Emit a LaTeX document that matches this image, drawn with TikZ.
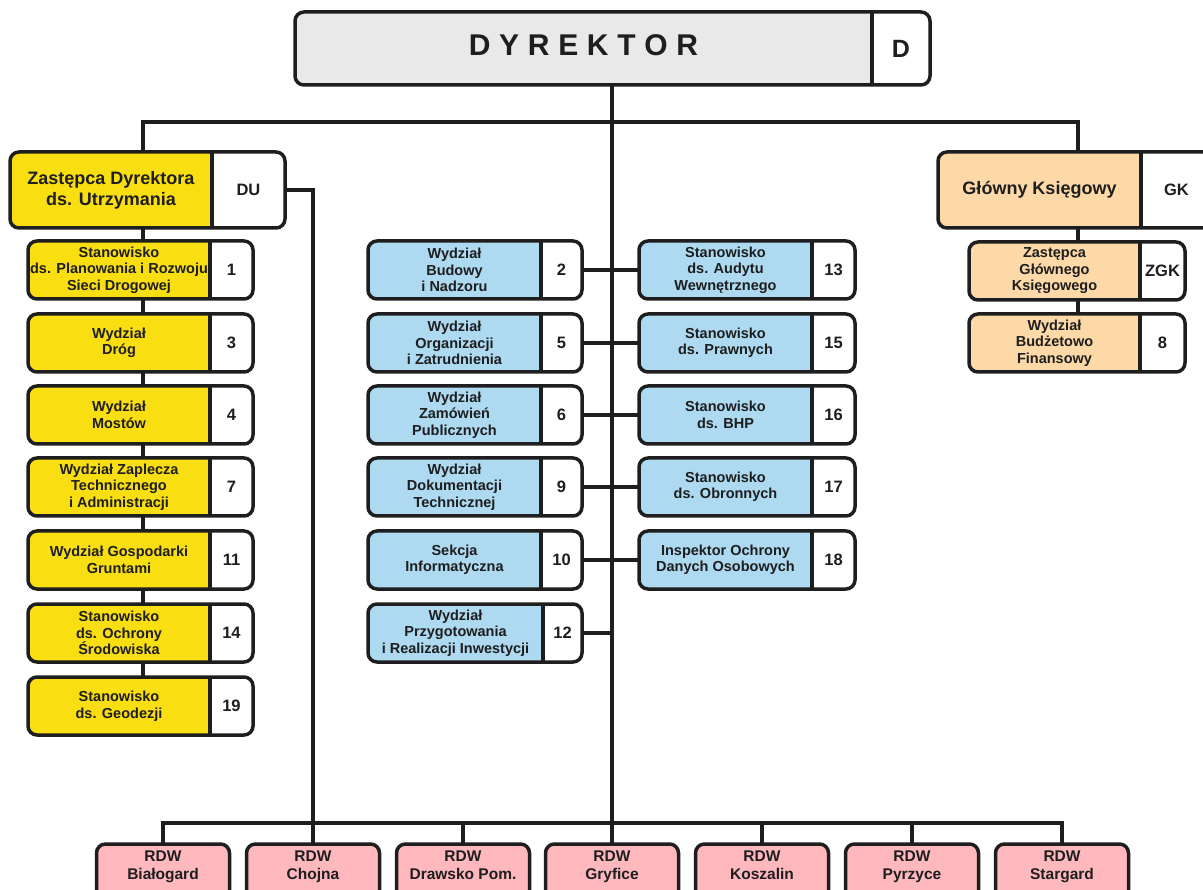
\documentclass[tikz,border=0pt]{standalone}
\usepackage{fontspec}
\setmainfont{Liberation Sans}
\usetikzlibrary{calc}
\pgfdeclarelayer{back}
\pgfdeclarelayer{bg}
\pgfsetlayers{back,bg,main}
\definecolor{cyel}{RGB}{249,222,18}
\definecolor{cblue}{RGB}{173,217,241}
\definecolor{cpeach}{RGB}{253,217,168}
\definecolor{cpink}{RGB}{255,184,189}
\definecolor{cgray}{RGB}{233,233,233}
\definecolor{ink}{RGB}{30,30,30}
\tikzset{
  conn/.style={line width=3.2pt, draw=ink},
  txtfont/.style={font=\bfseries\fontsize{14.5}{16.5}\selectfont},
  txt/.style={txtfont, align=center, inner sep=0pt, text=ink},
  num/.style={font=\bfseries\fontsize{16.5}{19}\selectfont, align=center, inner sep=0pt, text=ink},
  rdwtxt/.style={font=\bfseries\fontsize{15.5}{18}\selectfont, anchor=base, inner sep=0pt, text=ink},
  rdwbox/.style={shape=rectangle, rounded corners=9pt, draw=ink, line width=3.5pt, fill=cpink,
    minimum width=133pt, minimum height=62pt, inner sep=0pt, outer sep=0pt},
}
% name, x1, y1, x2, y2, xdiv, colour, text, number
\newcommand\obox[9]{%
  \path[fill=#7, rounded corners=9pt] (#2,#3) rectangle (#4,#5);
  \begin{scope}
    \clip[rounded corners=9pt] (#2,#3) rectangle (#4,#5);
    \fill[white] (#6,#3) rectangle (#4,#5);
  \end{scope}
  \node[shape=rectangle, rounded corners=9pt, draw=ink, line width=3.5pt,
    minimum width={#4pt-#2pt}, minimum height={#5pt-#3pt}, inner sep=0pt, outer sep=0pt]
    (#1) at ({(#2+#4)/2},{(#3+#5)/2}) {};
  \draw[line width=3.5pt, draw=ink] (#6,#3) -- (#6,#5);
  \node[txt] (#1t) at ({(#2+#6)/2},{(#3+#5)/2}) {#8};
  \node[num] (#1n) at ({(#6+#4)/2},{(#3+#5)/2}) {#9};
}
\newcommand\rdw[3]{%
  \node[rdwbox] (#1) at (#2,875) {};
  \node[rdwtxt] (#1a) at (#2,861) {RDW};
  \node[rdwtxt] (#1b) at (#2,879) {#3};
}
\begin{document}
\begin{tikzpicture}[x=1pt,y=-1pt]
\useasboundingbox (0,0) rectangle (1203,890);
\begin{pgfonlayer}{back}
\fill[white] (0,0) rectangle (1203,890);
\end{pgfonlayer}

% director
\obox{dyr}{295}{12}{930}{85}{872}{cgray}{\fontsize{30}{34}\selectfont\raisebox{6pt}{D\kern8.7pt Y\kern8.7pt R\kern8.7pt E\kern8.7pt K\kern8.7pt T\kern8.7pt O\kern8.7pt R}}{\fontsize{25}{28}\selectfont D}

% top level
\tikzset{txtfont/.style={font=\bfseries\fontsize{18}{21}\selectfont}}
\obox{du}{10}{152}{285}{228}{212}{cyel}{Zastępca Dyrektora\\ds. Utrzymania}{DU}
\obox{gk}{938}{152}{1212}{228}{1141}{cpeach}{Główny Księgowy}{GK}
\tikzset{txtfont/.style={font=\bfseries\fontsize{14.5}{16.5}\selectfont}}

% left column
\obox{l1}{28}{241}{253}{299}{210}{cyel}{Stanowisko\\ds. Planowania i Rozwoju\\Sieci Drogowej}{1}
\obox{l3}{28}{314}{253}{372}{210}{cyel}{Wydział\\Dróg}{3}
\obox{l4}{28}{386}{253}{444}{210}{cyel}{Wydział\\Mostów}{4}
\obox{l7}{28}{458}{253}{516}{210}{cyel}{Wydział Zaplecza\\Technicznego\\i Administracji}{7}
\obox{l11}{28}{531}{253}{589}{210}{cyel}{Wydział Gospodarki\\Gruntami}{11}
\obox{l14}{28}{604}{253}{662}{210}{cyel}{Stanowisko\\ds. Ochrony\\Środowiska}{14}
\obox{l19}{28}{677}{253}{735}{210}{cyel}{Stanowisko\\ds. Geodezji}{19}

% middle left column
\obox{m2}{368}{241}{582}{299}{541}{cblue}{Wydział\\Budowy\\i Nadzoru}{2}
\obox{m5}{368}{314}{582}{372}{541}{cblue}{Wydział\\Organizacji\\i Zatrudnienia}{5}
\obox{m6}{368}{386}{582}{444}{541}{cblue}{Wydział\\Zamówień\\Publicznych}{6}
\obox{m9}{368}{458}{582}{516}{541}{cblue}{Wydział\\Dokumentacji\\Technicznej}{9}
\obox{m10}{368}{531}{582}{589}{541}{cblue}{Sekcja\\Informatyczna}{10}
\obox{m12}{368}{604}{582}{662}{543}{cblue}{Wydział\\Przygotowania\\i Realizacji Inwestycji}{12}

% middle right column
\obox{s13}{639}{241}{855}{299}{812}{cblue}{Stanowisko\\ds. Audytu\\Wewnętrznego}{13}
\obox{s15}{639}{314}{855}{372}{812}{cblue}{Stanowisko\\ds. Prawnych}{15}
\obox{s16}{639}{386}{855}{444}{812}{cblue}{Stanowisko\\ds. BHP}{16}
\obox{s17}{639}{458}{855}{516}{812}{cblue}{Stanowisko\\ds. Obronnych}{17}
\obox{s18}{639}{531}{855}{589}{812}{cblue}{Inspektor Ochrony\\Danych Osobowych}{18}

% right column
\obox{z0}{969}{242}{1185}{300}{1140}{cpeach}{Zastępca\\Głównego\\Księgowego}{ZGK}
\obox{z8}{969}{314}{1185}{372}{1140}{cpeach}{Wydział\\Budżetowo\\Finansowy}{8}

% RDW
\rdw{rbia}{163}{Białogard}
\rdw{rcho}{313}{Chojna}
\rdw{rdra}{463}{Drawsko Pom.}
\rdw{rgry}{612}{Gryfice}
\rdw{rkos}{762}{Koszalin}
\rdw{rpyr}{912}{Pyrzyce}
\rdw{rsta}{1062}{Stargard}

\begin{pgfonlayer}{bg}
  \coordinate (lbus) at (143,122);
  \coordinate (rbus) at (1078,122);
  \draw[conn] (l19 -| lbus) -- (lbus) -- (rbus) -- (z8 -| rbus);
  \draw[conn] (dyr.south -| rgry.north) -- (rgry.north);
  \draw[conn] (du.east) -| (rcho.north);
  \draw[conn] (rbia.north) -- ++(0,-21) -| (rsta.north);
  \draw[conn] (rdra.north) -- ++(0,-21);
  \draw[conn] (rkos.north) -- ++(0,-21);
  \draw[conn] (rpyr.north) -- ++(0,-21);
  \draw[conn] (m2.east) -- (s13.west);
  \draw[conn] (m5.east) -- (s15.west);
  \draw[conn] (m6.east) -- (s16.west);
  \draw[conn] (m9.east) -- (s17.west);
  \draw[conn] (m10.east) -- (s18.west);
  \draw[conn] (m12.east) -- (m12.east -| rgry.north);
\end{pgfonlayer}
\end{tikzpicture}
\end{document}
